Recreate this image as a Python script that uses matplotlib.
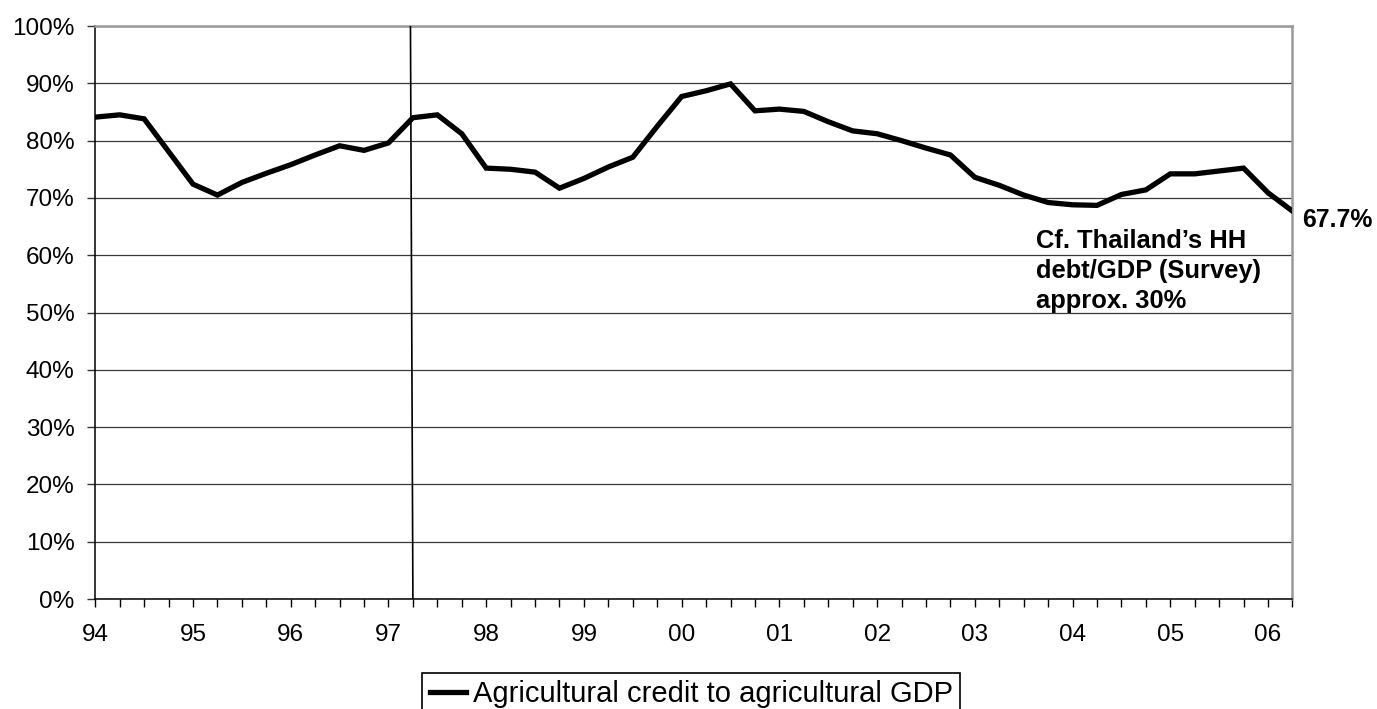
import matplotlib
matplotlib.use("Agg")
import matplotlib.pyplot as plt
from matplotlib.ticker import FixedLocator, MultipleLocator, FuncFormatter

plt.rcParams['font.family'] = ['Liberation Sans', 'DejaVu Sans']

# quarterly ratio of agricultural credit to agricultural GDP, 1994Q1 .. 2006Q2 (%)
credit_ratio = [84.1, 84.5, 83.8, 78.1, 72.4, 70.5, 72.7, 74.3, 75.8, 77.5,
                79.1, 78.3, 79.6, 84.0, 84.5, 81.2, 75.2, 75.0, 74.5, 71.7,
                73.4, 75.4, 77.1, 82.5, 87.7, 88.7, 89.9, 85.2, 85.5, 85.1,
                83.3, 81.7, 81.2, 80.0, 78.7, 77.5, 73.6, 72.2, 70.5, 69.2,
                68.8, 68.7, 70.6, 71.4, 74.2, 74.2, 74.7, 75.2, 70.9, 67.7]
year_labels = ['94', '95', '96', '97', '98', '99', '00', '01', '02', '03',
               '04', '05', '06']
series_name = 'Agricultural credit to agricultural GDP'
note_text = 'Cf. Thailand\u2019s HH\ndebt/GDP (Survey)\napprox. 30%'

# crisis marker (quarter index at top and bottom of the drawn line)
crisis_top, crisis_bottom = 12.9, 13.0

quarters = list(range(len(credit_ratio)))

fig = plt.figure(figsize=(13.77, 7.09), dpi=100)
ax = fig.add_axes([0.0692, 0.1551, 0.8694, 0.8082])

ax.plot(quarters, credit_ratio, color='black', lw=3.8, solid_joinstyle='miter',
        label=series_name, zorder=4)
ax.plot([crisis_top, crisis_bottom], [100, 0], color='black', lw=1.2, zorder=3)

ax.set_xlim(0, len(credit_ratio) - 1)
ax.set_ylim(0, 100)

ax.xaxis.set_major_locator(FixedLocator(range(0, len(year_labels) * 4, 4)))
ax.xaxis.set_minor_locator(MultipleLocator(1))
ax.set_xticklabels(year_labels)
ax.yaxis.set_major_locator(MultipleLocator(10))
ax.yaxis.set_major_formatter(FuncFormatter(lambda v, p: f'{v:.0f}%'))

ax.tick_params(axis='x', which='both', direction='out', length=5.8, width=1,
               color='black', labelsize=17.5, pad=12)
ax.tick_params(axis='y', direction='out', length=5.8, width=1, color='#333333',
               labelsize=17.5, pad=9)

ax.set_axisbelow(True)
ax.grid(axis='y', color='#3a3a3a', lw=0.9)
ax.grid(axis='x', visible=False)

for side in ('top', 'right'):
    ax.spines[side].set_color('#999999')
    ax.spines[side].set_linewidth(1.8)
for side in ('left', 'bottom'):
    ax.spines[side].set_color('black')
    ax.spines[side].set_linewidth(1.1)

# end value label
ax.annotate(f'{credit_ratio[-1]:.1f}%', xy=(quarters[-1], credit_ratio[-1]),
            xytext=(7, -6.5), textcoords='offset points', ha='left', va='center',
            fontsize=17.8, fontweight='bold', annotation_clip=False)

# note block; baseline of its last line sits just above the 50% gridline
ax.text(38.5, 50.8, note_text, ha='left', va='baseline', fontsize=18.4,
        fontweight='bold', linespacing=1.32)

fig.legend(loc='upper center', bbox_to_anchor=(0.502, 0.0508), ncol=1,
           fontsize=21, frameon=True, fancybox=False, edgecolor='black',
           framealpha=1, handlelength=1.24, handletextpad=0.24, borderpad=0.25,
           borderaxespad=0)
leg = fig.legends[0]
leg.get_frame().set_linewidth(1.2)

fig.savefig('out.png', dpi=100)
